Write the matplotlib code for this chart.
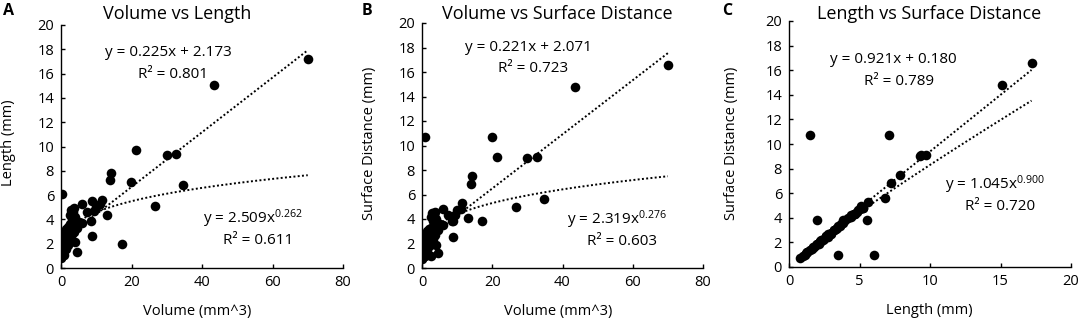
import numpy as np
import matplotlib
matplotlib.use("Agg")
import matplotlib.pyplot as plt

plt.rcParams["font.family"] = ["Open Sans", "DejaVu Sans"]
plt.rcParams["mathtext.default"] = "regular"

# ---------------------------------------------------
# Per-sample measurements (read off the three panels)
# ---------------------------------------------------

volume = [70.0, 43.5, 21.3, 30.0, 32.7, 14.2, 14.0, 19.8, 34.7, 26.8,
          17.2, 0.2, 0.8, 8.7, 8.7, 13.0, 11.5, 11.0, 10.0, 9.4,
          8.5, 6.0, 5.9, 4.5, 3.6, 0.1, 0.2, 0.3, 0.1, 0.4,
          0.5, 0.3, 0.6, 0.8, 1.0, 1.2, 1.0, 1.5, 1.8, 2.0,
          2.2, 2.5, 2.6, 3.0, 2.8, 3.3, 3.5, 3.8, 4.0, 4.2,
          4.5, 1.4, 2.1, 0.7, 1.6, 2.4, 3.1, 2.65, 1.2, 0.9,
          3.9, 5.0, 7.5, 2.9]
length = [17.2, 15.1, 9.7, 9.3, 9.35, 7.85, 7.25, 7.1, 6.8, 5.1,
          2.0, 6.05, 1.5, 5.55, 2.65, 4.4, 5.6, 5.25, 5.0, 4.7,
          3.85, 5.25, 3.7, 1.3, 4.9, 0.8, 1.0, 1.3, 1.5, 1.8,
          2.0, 2.4, 2.2, 1.7, 2.6, 2.8, 3.0, 3.2, 2.5, 3.4,
          2.9, 3.6, 4.4, 4.0, 2.2, 3.2, 4.6, 3.0, 2.1, 3.5,
          3.3, 1.6, 1.9, 1.2, 2.3, 2.6, 2.8, 3.5, 2.0, 1.1,
          4.2, 3.8, 4.6, 4.8]
surface = [16.6, 14.8, 9.1, 9.0, 9.1, 7.5, 6.85, 10.7, 5.65, 4.95,
           3.85, 1.0, 10.7, 3.85, 2.5, 4.1, 5.3, 4.8, 4.7, 4.3,
           3.8, 4.8, 3.5, 1.25, 4.6, 0.75, 0.9, 1.2, 1.35, 1.6,
           1.9, 2.2, 2.1, 1.6, 2.4, 2.7, 2.8, 3.0, 2.3, 3.2,
           2.7, 3.3, 4.2, 3.8, 2.0, 3.0, 4.3, 2.7, 1.9, 3.3,
           3.1, 1.5, 1.8, 1.1, 2.2, 2.5, 2.4, 1.0, 1.9, 1.0,
           4.0, 3.6, 4.3, 4.5]

# Excel trendline coefficients printed on the chart
lin_a = (0.225, 2.173, "0.801")
pow_a = (2.509, 0.262, "0.611")
lin_b = (0.221, 2.071, "0.723")
pow_b = (2.319, 0.276, "0.603")
lin_c = (0.921, 0.180, "0.789")
pow_c = (1.045, 0.900, "0.720")

W, H = 1084, 327
fig = plt.figure(figsize=(W / 100, H / 100), dpi=100)

TICK_FS = 10.5
EQ_FS = 11
LABEL_FS = 10.5
TITLE_FS = 13


def px(x0, y0, x1, y1):
    return [x0 / W, 1 - y1 / H, (x1 - x0) / W, (y1 - y0) / H]


def panel(rect, x, y, lin, pw, xmax, xstep, lin_pos, pow_pos):
    ax = fig.add_axes(rect)
    ax.scatter(x, y, s=48, color="black", zorder=3, linewidths=0)

    xs = np.linspace(min(x), max(x), 200)
    ax.plot(xs, lin[0] * xs + lin[1], color="black", ls=(0, (1, 1.2)), lw=1.4)
    ax.plot(xs, pw[0] * xs ** pw[1], color="black", ls=(0, (1, 1.2)), lw=1.4)

    ax.set_xlim(0, xmax)
    ax.set_ylim(0, 20)
    ax.set_xticks(np.arange(0, xmax + 1, xstep))
    ax.set_yticks(np.arange(0, 21, 2))
    ax.spines[["top", "right"]].set_visible(False)
    for s in ("left", "bottom"):
        ax.spines[s].set_linewidth(1.0)
    ax.tick_params(direction="in", length=3, width=1, labelsize=TICK_FS, pad=5)

    ax.text(lin_pos[0], lin_pos[1], "y = %.3fx + %.3f" % (lin[0], lin[1]),
            ha="center", va="center", fontsize=EQ_FS)
    ax.text(lin_pos[0] + 1.5 * xmax / 80, lin_pos[1] - 1.75, "R² = " + lin[2],
            ha="center", va="center", fontsize=EQ_FS)
    ax.text(pow_pos[0], pow_pos[1], "y = %.3fx$^{%.3f}$" % (pw[0], pw[1]),
            ha="center", va="center", fontsize=EQ_FS)
    ax.text(pow_pos[0] + 1.5 * xmax / 80, pow_pos[1] - 1.75, "R² = " + pw[2],
            ha="center", va="center", fontsize=EQ_FS)
    return ax


panel(px(61, 25, 343, 268), volume, length, lin_a, pow_a, 80, 20,
      (30.4, 17.7), (54.5, 4.05))
panel(px(422, 23, 703, 268), volume, surface, lin_b, pow_b, 80, 20,
      (30.2, 18.0), (55.4, 3.95))
panel(px(789, 21, 1071, 267), length, surface, lin_c, pow_c, 20, 5,
      (7.4, 16.85), (14.6, 6.7))

# titles, panel letters and axis labels
fig.text(177 / W, 1 - 14 / H, "Volume vs Length", ha="center", va="center", fontsize=TITLE_FS)
fig.text(557 / W, 1 - 14 / H, "Volume vs Surface Distance", ha="center", va="center", fontsize=TITLE_FS)
fig.text(929 / W, 1 - 14 / H, "Length vs Surface Distance", ha="center", va="center", fontsize=TITLE_FS)

for lx, letter in [(3, "A"), (362, "B"), (722, "C")]:
    fig.text(lx / W, 1 - 11 / H, letter, ha="left", va="center", fontsize=11.5, fontweight="bold")

fig.text(197 / W, 1 - 311 / H, "Volume (mm^3)", ha="center", va="center", fontsize=LABEL_FS)
fig.text(558 / W, 1 - 311 / H, "Volume (mm^3)", ha="center", va="center", fontsize=LABEL_FS)
fig.text(929 / W, 1 - 311 / H, "Length (mm)", ha="center", va="center", fontsize=LABEL_FS)

fig.text(9 / W, 1 - 143 / H, "Length (mm)", rotation=90, ha="center", va="center", fontsize=LABEL_FS)
fig.text(369 / W, 1 - 143 / H, "Surface Distance (mm)", rotation=90, ha="center", va="center", fontsize=LABEL_FS)
fig.text(732 / W, 1 - 143 / H, "Surface Distance (mm)", rotation=90, ha="center", va="center", fontsize=LABEL_FS)

fig.savefig("out.png", dpi=100)
